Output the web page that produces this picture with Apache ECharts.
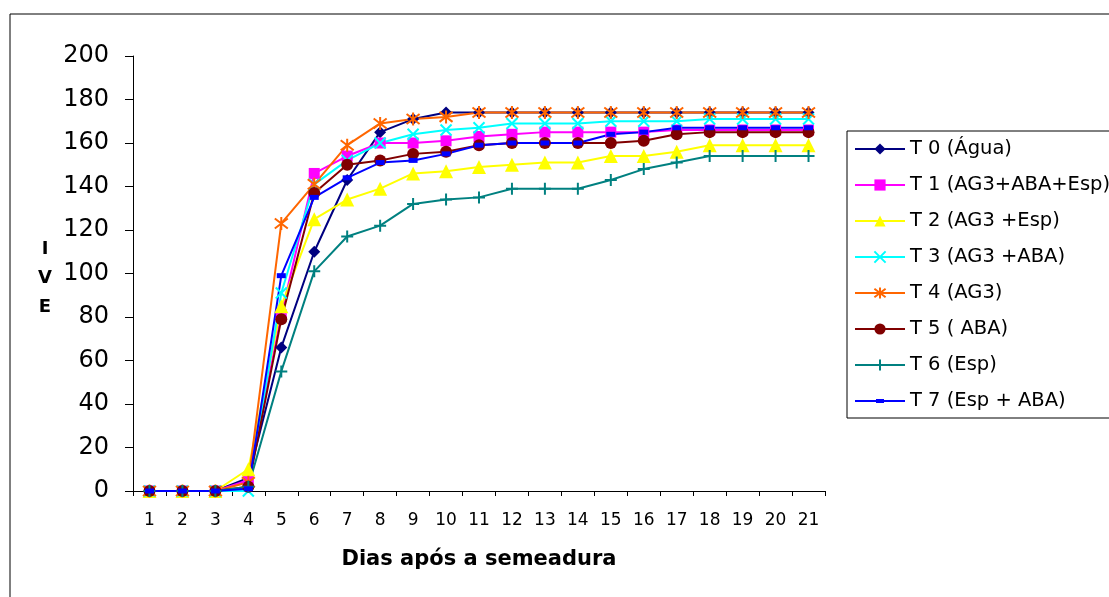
<!DOCTYPE html>
<html>
<head>
<meta charset="utf-8">
<script src="https://cdn.jsdelivr.net/npm/echarts@6/dist/echarts.min.js"></script>
<style>
html,body{margin:0;padding:0;background:#fff;}
#chart{width:1109px;height:597px;}
</style>
</head>
<body>
<div id="chart"></div>
<script>
var days = ['1','2','3','4','5','6','7','8','9','10','11','12','13','14','15','16','17','18','19','20','21'];
var yTicks = [0,20,40,60,80,100,120,140,160,180,200];
var seriesNames = ['T 0 (Água)','T 1 (AG3+ABA+Esp)','T 2 (AG3 +Esp)','T 3 (AG3 +ABA)','T 4 (AG3)','T 5 ( ABA)','T 6 (Esp)','T 7 (Esp + ABA)'];
var t0 = [0,0,0,6,66,110,143,165,171,174,174,174,174,174,174,174,174,174,174,174,174];
var t1 = [0,0,0,5,81,146,154,160,160,161,163,164,165,165,165,165,166,166,166,166,166];
var t2 = [0,0,0,10,85,125,134,139,146,147,149,150,151,151,154,154,156,159,159,159,159];
var t3 = [0,0,0,0,91,141,152,160,164,166,167,169,169,169,170,170,170,171,171,171,171];
var t4 = [0,0,0,4,123,141,159,169,171,172,174,174,174,174,174,174,174,174,174,174,174];
var t5 = [0,0,0,2,79,137,150,152,155,156,159,160,160,160,160,161,164,165,165,165,165];
var t6 = [0,0,0,2,55,101,117,122,132,134,135,139,139,139,143,148,151,154,154,154,154];
var t7 = [0,0,0,1,99,135,144,151,152,155,159,160,160,160,164,165,167,167,167,167,167];
var allData = [t0,t1,t2,t3,t4,t5,t6,t7];

var colors = ['#000080','#FF00FF','#FFFF00','#00FFFF','#FF6600','#800000','#008080','#0000FF'];
var symbols = ['diamond','rect','triangle','path://M0,0L10,10M10,0L0,10','path://M0,0L10,10M10,0L0,10M5,-1.5L5,11.5','circle','path://M5,0L5,10M0,5L10,5','rect'];
var symbolSizes = [12,11,14,11,13,12,12,[9,5]];
var strokeSym = [false,false,false,true,true,false,true,false];

var FONT = 'DejaVu Sans, sans-serif';

var series = allData.map(function(d,i){
  var st = {color: colors[i]};
  if (strokeSym[i]) { st.borderColor = colors[i]; st.borderWidth = 2; }
  return {
    name: seriesNames[i],
    type: 'line',
    data: d,
    symbol: symbols[i],
    symbolSize: symbolSizes[i],
    showAllSymbol: true,
    lineStyle: {color: colors[i], width: 2},
    itemStyle: st,
    emphasis: {disabled: true},
    animation: false
  };
});

var legendData = seriesNames.map(function(n,i){
  if (i === 7) {
    return {name: n, icon: 'path://M0,1L50,1L50,3L0,3Z M21,0L29,0L29,4L21,4Z', itemStyle: {color: colors[7]}};
  }
  return {name: n};
});

var chart = echarts.init(document.getElementById('chart'));
chart.setOption({
  animation: false,
  backgroundColor: '#fff',
  textStyle: {fontFamily: FONT},
  grid: {left: 133, top: 56, width: 692, height: 435, containLabel: false},
  graphic: [
    {type: 'rect', shape: {x: 10, y: 14, width: 1200, height: 700}, style: {fill: 'none', stroke: '#000', lineWidth: 1}, silent: true, z: -1},
    {type: 'rect', shape: {x: 847, y: 131, width: 300, height: 287}, style: {fill: '#fff', stroke: '#000', lineWidth: 1}, silent: true, z: 0}
  ],
  legend: {
    orient: 'vertical',
    left: 854,
    top: 139,
    padding: 0,
    itemWidth: 50,
    itemHeight: 14,
    itemGap: 16,
    textStyle: {fontFamily: FONT, fontSize: 19.5, color: '#000'},
    data: legendData,
    z: 5
  },
  xAxis: {
    type: 'category',
    data: days,
    boundaryGap: true,
    name: 'Dias após a semeadura',
    nameLocation: 'middle',
    nameGap: 58,
    nameTextStyle: {fontFamily: FONT, fontSize: 21, fontWeight: 'bold', color: '#000'},
    axisLine: {lineStyle: {color: '#000', width: 1}},
    axisTick: {show: true, inside: false, length: 5, alignWithLabel: false, lineStyle: {color: '#000'}},
    axisLabel: {fontFamily: FONT, fontSize: 17, color: '#000', margin: 21, interval: 0}
  },
  yAxis: {
    type: 'value',
    min: yTicks[0],
    max: yTicks[yTicks.length-1],
    interval: 20,
    name: '{s|}\n{b|I}\n{b|V}\n{b|E}',
    nameLocation: 'middle',
    nameRotate: 0,
    nameGap: 88,
    nameTextStyle: {
      fontFamily: FONT, fontSize: 18, fontWeight: 'bold', color: '#000', align: 'center',
      rich: {
        s: {lineHeight: 10, fontSize: 8},
        b: {fontFamily: FONT, fontSize: 18, fontWeight: 'bold', color: '#000', lineHeight: 29}
      }
    },
    axisLine: {show: true, lineStyle: {color: '#000', width: 1}},
    axisTick: {show: true, inside: false, length: 8, lineStyle: {color: '#000'}},
    axisLabel: {fontFamily: FONT, fontSize: 24, color: '#000', margin: 24},
    splitLine: {show: false}
  },
  series: series
});
</script>
</body>
</html>
